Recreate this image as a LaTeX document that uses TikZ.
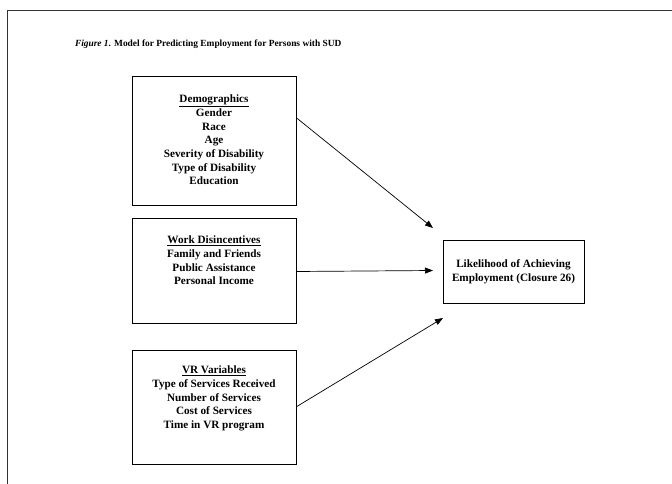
\documentclass[tikz,border=0pt]{standalone}
\usepackage{fontspec}
\setmainfont{Liberation Serif}
\usetikzlibrary{arrows.meta}

\begin{document}
\begin{tikzpicture}[x=1pt,y=-1pt,outer sep=0pt,>={Triangle[length=8pt,width=6pt]}]
\tikzstyle{box}=[draw, line width=0.9pt, minimum width=164pt, inner sep=0pt]
\tikzstyle{boxtext}=[font=\bfseries\fontsize{11.2}{13.7}\selectfont, align=center, anchor=north, inner sep=0pt]
\tikzstyle{link}=[->, line width=0.7pt]
    \useasboundingbox (0,0) rectangle (672,484);
    % frame round the figure
    \draw[line width=0.6pt, black!80] (7,484) -- (7,10) -- (672,10);
    \node (title) [anchor=west, inner sep=0pt, font=\bfseries\fontsize{9.4}{10}\selectfont]
        at (75,44) {\textit{Figure 1}. Model for Predicting Employment for Persons with SUD};
    % predictor boxes
    \node (demo) [box, minimum height=129pt] at (214,140.5) {};
    \node (demotext) [boxtext] at ([yshift=-19pt]demo.north) {\underline{Demographics}\\Gender\\Race\\Age\\Severity of Disability\\Type of Disability\\Education};
    \node (work) [box, minimum height=105pt] at (214,270.5) {};
    \node (worktext) [boxtext] at ([yshift=-18pt]work.north) {\underline{Work Disincentives}\\Family and Friends\\Public Assistance\\Personal Income};
    \node (vr) [box, minimum height=114pt] at (214,407) {};
    \node (vrtext) [boxtext] at ([yshift=-16pt]vr.north) {\underline{VR Variables}\\Type of Services Received\\Number of Services\\Cost of Services\\Time in VR program};
    % outcome
    \node (outcome) [box, minimum width=141pt, minimum height=63pt, align=center,
        font=\bfseries\fontsize{11.2}{13.7}\selectfont] at (513.5,271.5) {Likelihood of Achieving\\Employment (Closure 26)};
    \draw[link] ([yshift=23pt]demo.east) -- ([shift={(-10pt,12pt)}]outcome.north west);
    \draw[link] ([yshift=-1pt]work.east) -- ([xshift=-10pt]work.east -| outcome.west);
    \draw[link] (vr.east) -- ([yshift=-15pt]outcome.south west);
\end{tikzpicture}
\end{document}
